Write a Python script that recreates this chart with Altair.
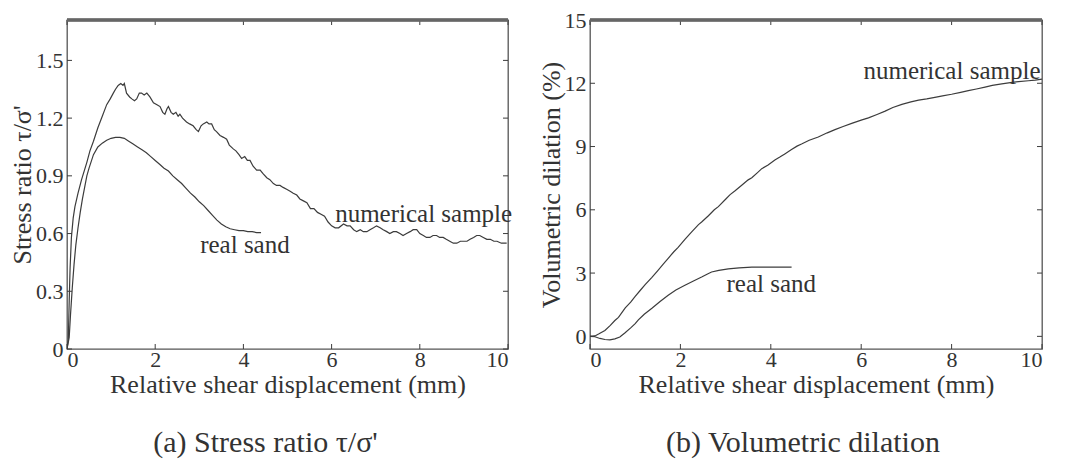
import altair as alt
import pandas as pd

# ---------------- Panel (a): stress ratio ----------------
a_num_x = [0.0, 0.03, 0.05, 0.07, 0.1, 0.14, 0.18, 0.25, 0.33, 0.45, 0.52, 0.6, 0.7, 0.8, 0.9, 0.98,
           1.05, 1.1, 1.16, 1.22, 1.27, 1.3, 1.35, 1.42, 1.47, 1.53, 1.58, 1.64, 1.69, 1.75, 1.81, 1.88,
           1.96, 2.04, 2.11, 2.17, 2.22, 2.27, 2.3, 2.36, 2.41, 2.47, 2.52, 2.56, 2.62, 2.71, 2.78, 2.86,
           2.93, 2.98, 3.04, 3.09, 3.17, 3.22, 3.28, 3.34, 3.39, 3.47, 3.55, 3.62, 3.68, 3.77, 3.83, 3.9,
           3.96, 4.03, 4.09, 4.15, 4.22, 4.3, 4.38, 4.45, 4.53, 4.6, 4.68, 4.75, 4.83, 4.9, 4.98, 5.06,
           5.13, 5.21, 5.28, 5.36, 5.44, 5.52, 5.6, 5.68, 5.76, 5.84, 5.92, 6.0, 6.08, 6.16, 6.27, 6.35,
           6.42, 6.5, 6.57, 6.65, 6.72, 6.8, 6.87, 6.95, 7.02, 7.1, 7.17, 7.25, 7.32, 7.4, 7.47, 7.55,
           7.62, 7.7, 7.78, 7.85, 7.93, 8.0, 8.08, 8.15, 8.23, 8.3, 8.38, 8.45, 8.53, 8.6, 8.68, 8.76,
           8.84, 8.92, 8.99, 9.07, 9.14, 9.22, 9.29, 9.36, 9.44, 9.52, 9.6, 9.68, 9.75, 9.85, 9.97]
a_num_y = [0.0, 0.05, 0.25, 0.42, 0.58, 0.68, 0.74, 0.81, 0.88, 0.97, 1.03, 1.08, 1.15, 1.21, 1.27, 1.30,
           1.33, 1.35, 1.37, 1.38, 1.37, 1.38, 1.33, 1.31, 1.30, 1.29, 1.30, 1.33, 1.33, 1.32, 1.33, 1.31,
           1.28, 1.27, 1.26, 1.23, 1.22, 1.25, 1.26, 1.23, 1.22, 1.23, 1.21, 1.22, 1.20, 1.18, 1.17, 1.16,
           1.14, 1.13, 1.16, 1.17, 1.18, 1.17, 1.17, 1.14, 1.13, 1.11, 1.10, 1.09, 1.06, 1.04, 1.03, 1.01,
           0.99, 1.00, 0.98, 0.98, 0.95, 0.93, 0.93, 0.91, 0.89, 0.88, 0.86, 0.85, 0.85, 0.84, 0.83, 0.82,
           0.81, 0.80, 0.78, 0.77, 0.76, 0.73, 0.73, 0.71, 0.70, 0.69, 0.66, 0.64, 0.63, 0.63, 0.65, 0.64,
           0.64, 0.62, 0.61, 0.62, 0.61, 0.61, 0.62, 0.63, 0.64, 0.63, 0.62, 0.61, 0.60, 0.61, 0.61, 0.60,
           0.59, 0.60, 0.61, 0.62, 0.62, 0.60, 0.59, 0.58, 0.58, 0.59, 0.59, 0.58, 0.58, 0.57, 0.56, 0.55,
           0.55, 0.56, 0.56, 0.56, 0.57, 0.58, 0.59, 0.59, 0.58, 0.57, 0.57, 0.56, 0.56, 0.55, 0.55]

a_sand_x = [0.0, 0.05, 0.08, 0.12, 0.16, 0.2, 0.25, 0.3, 0.35, 0.4, 0.45, 0.5, 0.6, 0.7, 0.8, 0.9, 1.0,
            1.1, 1.2, 1.3, 1.4, 1.5, 1.6, 1.7, 1.8, 1.9, 2.0, 2.1, 2.2, 2.3, 2.4, 2.5, 2.6, 2.7, 2.8,
            2.9, 3.0, 3.1, 3.2, 3.3, 3.4, 3.5, 3.6, 3.7, 3.8, 3.9, 4.0, 4.1, 4.2, 4.3, 4.4]
a_sand_y = [0.0, 0.06, 0.18, 0.32, 0.44, 0.54, 0.63, 0.71, 0.78, 0.84, 0.90, 0.94, 1.01, 1.05, 1.07,
            1.085, 1.095, 1.10, 1.10, 1.095, 1.08, 1.065, 1.05, 1.035, 1.02, 1.00, 0.98, 0.96, 0.94,
            0.925, 0.90, 0.88, 0.86, 0.835, 0.81, 0.79, 0.765, 0.745, 0.72, 0.695, 0.67, 0.65, 0.635,
            0.625, 0.62, 0.615, 0.615, 0.61, 0.61, 0.605, 0.605]

a_xticks = [0, 2, 4, 6, 8, 10]
a_yticks = [0, 0.3, 0.6, 0.9, 1.2, 1.5]

# ---------------- Panel (b): volumetric dilation ----------------
b_num_x = [0.0, 0.11, 0.2, 0.33, 0.45, 0.55, 0.63, 0.78, 0.9, 1.0, 1.1, 1.22, 1.37, 1.5, 1.62, 1.73,
           1.85, 1.95, 2.1, 2.25, 2.4, 2.47, 2.62, 2.75, 2.84, 3.0, 3.1, 3.21, 3.35, 3.5, 3.58, 3.7,
           3.8, 3.94, 4.09, 4.2, 4.31, 4.45, 4.58, 4.68, 4.85, 5.05, 5.25, 5.42, 5.6, 5.79, 6.0, 6.16,
           6.35, 6.53, 6.7, 6.9, 7.1, 7.27, 7.45, 7.63, 7.8, 8.0, 8.2, 8.37, 8.55, 8.74, 8.9, 9.11,
           9.3, 9.48, 9.7, 9.85, 10.0]
b_num_y = [0.0, 0.02, 0.12, 0.28, 0.52, 0.75, 0.9, 1.35, 1.62, 1.9, 2.15, 2.45, 2.8, 3.12, 3.42, 3.7,
           4.0, 4.22, 4.6, 4.95, 5.3, 5.42, 5.72, 6.0, 6.15, 6.5, 6.72, 6.9, 7.15, 7.42, 7.52, 7.75,
           7.95, 8.12, 8.36, 8.5, 8.65, 8.85, 9.02, 9.12, 9.3, 9.45, 9.65, 9.8, 9.95, 10.1, 10.25, 10.36,
           10.52, 10.68, 10.85, 11.0, 11.12, 11.2, 11.26, 11.33, 11.4, 11.48, 11.57, 11.65, 11.73, 11.82,
           11.9, 11.97, 12.03, 12.08, 12.12, 12.15, 12.2]

b_sand_x = [0.0, 0.11, 0.22, 0.33, 0.44, 0.55, 0.66, 0.77, 0.9, 1.0, 1.07, 1.2, 1.37, 1.55, 1.73, 1.9,
            2.1, 2.3, 2.47, 2.6, 2.69, 2.85, 3.06, 3.3, 3.58, 3.9, 4.2, 4.46]
b_sand_y = [0.0, -0.02, -0.1, -0.15, -0.17, -0.12, -0.03, 0.16, 0.4, 0.6, 0.78, 1.05, 1.33, 1.65, 1.95,
            2.2, 2.42, 2.64, 2.81, 2.96, 3.05, 3.13, 3.2, 3.25, 3.28, 3.28, 3.28, 3.28]

b_xticks = [0, 2, 4, 6, 8, 10]
b_yticks = [0, 3, 6, 9, 12, 15]

series_names = ["numerical sample", "real sand"]
a_label_x = [6.08, 3.02]
a_label_y = [0.70, 0.54]
b_label_x = [6.05, 3.02]
b_label_y = [12.56, 2.48]

FONT = "Liberation Serif"
INK = "#3c3c3c"


def panel(nx, ny, sx, sy, xticks, yticks, xdom, ydom, ytitle, ylabel_expr, lx, ly, caption, W, H, cap_dx):
    df = pd.concat([
        pd.DataFrame({"x": nx, "y": ny, "s": series_names[0], "o": range(len(nx))}),
        pd.DataFrame({"x": sx, "y": sy, "s": series_names[1], "o": range(len(sx))}),
    ])
    xs = alt.Scale(domain=xdom, nice=False, zero=False)
    ys = alt.Scale(domain=ydom, nice=False, zero=False)
    lines = alt.Chart(df).mark_line(color=INK, strokeWidth=1.2, clip=True).encode(
        x=alt.X("x:Q", scale=xs, axis=alt.Axis(values=xticks, title="Relative shear displacement (mm)",
                                                 labelPadding=0, titlePadding=1, format="d")),
        y=alt.Y("y:Q", scale=ys, axis=alt.Axis(values=yticks, title=ytitle, labelPadding=4,
                                                 titlePadding=0, labelExpr=ylabel_expr)),
        detail="s:N",
        order="o:Q",
    )
    lab = pd.DataFrame({"x": lx, "y": ly, "t": series_names})
    labels = alt.Chart(lab).mark_text(font=FONT, fontSize=25, color="#333", align="left",
                                       baseline="middle").encode(
        x=alt.X("x:Q", scale=xs), y=alt.Y("y:Q", scale=ys), text="t:N")
    xt = pd.DataFrame({"v": xticks})
    yt = pd.DataFrame({"v": yticks})
    xb = alt.Chart(xt).mark_rule(color=INK, strokeWidth=1).encode(
        x=alt.X("v:Q", scale=xs), y=alt.value(H), y2=alt.value(H - 5))
    xtop = alt.Chart(xt).mark_rule(color=INK, strokeWidth=1).encode(
        x=alt.X("v:Q", scale=xs), y=alt.value(0), y2=alt.value(5))
    yl = alt.Chart(yt).mark_rule(color=INK, strokeWidth=1).encode(
        y=alt.Y("v:Q", scale=ys), x=alt.value(0), x2=alt.value(5))
    yr = alt.Chart(yt).mark_rule(color=INK, strokeWidth=1).encode(
        y=alt.Y("v:Q", scale=ys), x=alt.value(W), x2=alt.value(W - 5))
    top = alt.Chart(xt).mark_rule(color="#666", strokeWidth=2.5).encode(
        x=alt.value(0), x2=alt.value(W), y=alt.value(0))
    return alt.layer(lines, labels, xb, xtop, yl, yr, top).properties(
        width=W, height=H,
        title=alt.TitleParams(caption, orient="bottom", anchor="middle", font=FONT, fontSize=30,
                              fontWeight="normal", color="#333", offset=31, dx=cap_dx),
    )


left = panel(a_num_x, a_num_y, a_sand_x, a_sand_y, a_xticks, a_yticks, [0, 10], [0, 1.71],
             "Stress ratio  τ/σ'", "datum.value == 0 ? '0' : format(datum.value, '.1f')",
             a_label_x, a_label_y, "(a) Stress ratio τ/σ'", 441, 329, -22)
right = panel(b_num_x, b_num_y, b_sand_x, b_sand_y, b_xticks, b_yticks, [0, 10], [-0.6, 15],
              "Volumetric dilation (%)", "format(datum.value, 'd')",
              b_label_x, b_label_y, "(b) Volumetric dilation", 452, 329, -13)

chart = alt.hconcat(left, right, spacing=24).properties(
    padding={"left": 0, "top": 0, "right": 0, "bottom": 0}
).configure_axis(
    labelFont=FONT, titleFont=FONT, labelFontSize=22, titleFontSize=26, labelColor="#333",
    titleColor="#333", titleFontWeight="normal", grid=False, domain=False, ticks=False,
).configure_view(stroke="#555", strokeWidth=1.3)

chart.save("out.html", embed_options={"renderer": "svg", "actions": False})
